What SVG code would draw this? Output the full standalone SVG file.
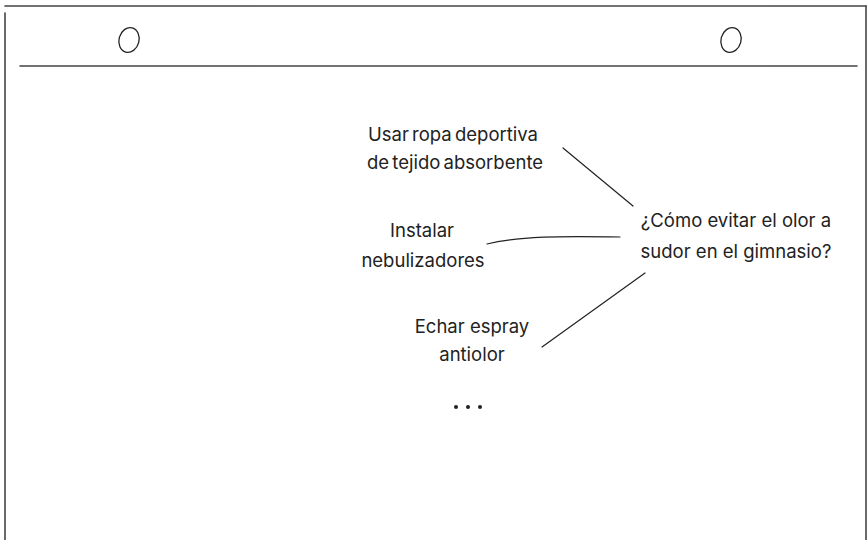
<svg xmlns="http://www.w3.org/2000/svg" width="868" height="540" viewBox="0 0 868 540">
<style>
.frame{fill:none;stroke:#444;stroke-width:1.6;stroke-linecap:round}
.ring{fill:none;stroke:#222;stroke-width:1.3}
.edge{fill:none;stroke:#222;stroke-width:1.2;stroke-linecap:round}
.lbl{font-family:Inter,"Liberation Sans",sans-serif;font-size:18.5px;fill:#222;text-anchor:middle}
.tight{word-spacing:-2px}
</style>
<rect width="868" height="540" fill="#fff"/>
<g id="sheet">
<line class="frame" x1="5" y1="6" x2="866" y2="6"/>
<line class="frame" x1="5" y1="13" x2="5" y2="540"/>
<line class="frame" x1="866" y1="6" x2="866" y2="540"/>
<line class="frame" x1="20" y1="66" x2="857" y2="66"/>
<ellipse class="ring" cx="129" cy="40" rx="10" ry="12.5" transform="rotate(15 129 40)"/>
<ellipse class="ring" cx="731" cy="40" rx="10" ry="12.5" transform="rotate(15 731 40)"/>
</g>
<g id="connectors">
<line class="edge" x1="563" y1="148" x2="633" y2="206"/>
<path class="edge" d="M487 244 C520 236 560 236 620 237"/>
<line class="edge" x1="542" y1="347" x2="645" y2="273"/>
</g>
<g id="center">
<text class="lbl" x="736" y="227">¿Cómo evitar el olor a</text>
<text class="lbl" x="736" y="258">sudor en el gimnasio?</text>
</g>
<g id="n1">
<text class="lbl tight" x="453" y="141">Usar ropa deportiva</text>
<text class="lbl tight" x="455" y="169">de tejido absorbente</text>
</g>
<g id="n2">
<text class="lbl" x="422" y="237">Instalar</text>
<text class="lbl" x="423" y="267">nebulizadores</text>
</g>
<g id="n3">
<text class="lbl" x="472" y="333">Echar espray</text>
<text class="lbl" x="472" y="361">antiolor</text>
</g>
<g id="more">
<circle cx="456" cy="407" r="2" fill="#222"/>
<circle cx="468" cy="407" r="2" fill="#222"/>
<circle cx="480" cy="407" r="2" fill="#222"/>
</g>
</svg>
